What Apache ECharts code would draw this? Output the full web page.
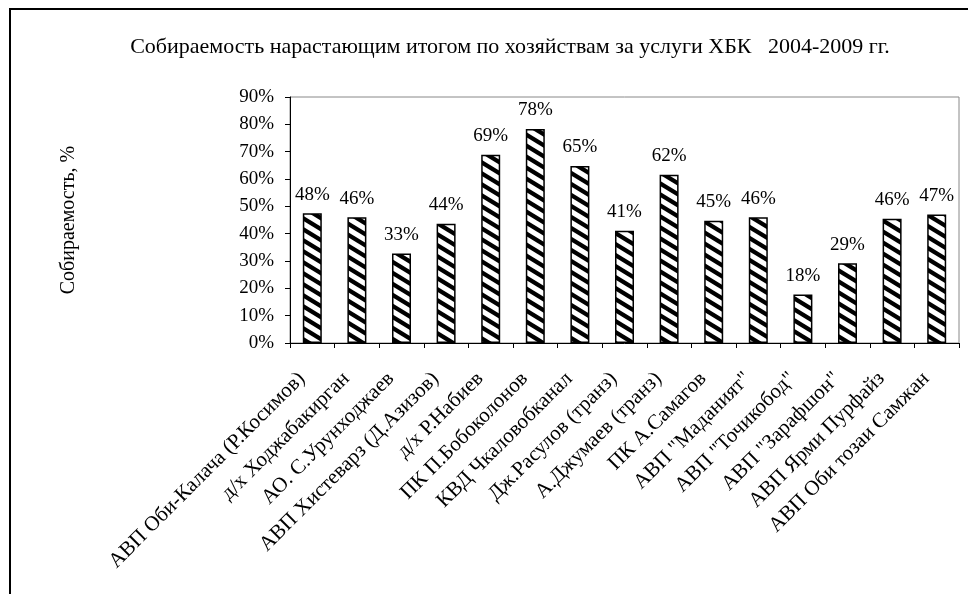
<!DOCTYPE html>
<html><head><meta charset="utf-8">
<script src="https://cdn.jsdelivr.net/npm/echarts@6/dist/echarts.min.js"></script>
<style>html,body{margin:0;padding:0;background:#fff}#c{width:968px;height:594px}</style>
</head><body><div id="c"></div>
<script>
const titleText = 'Собираемость нарастающим итогом по хозяйствам за услуги ХБК   2004-2009 гг.';
const yAxisName = 'Собираемость, %';
const categories = [
  'АВП Оби-Калача (Р.Косимов)',
  'д/х Ходжабакирган',
  'АО. С.Урунходжаев',
  'АВП Хистеварз (Д.Азизов)',
  'д/х Р.Набиев',
  'ПК П.Бобоколонов',
  'КВД Чкаловобканал',
  'Дж.Расулов (транз)',
  'А.Джумаев (транз)',
  'ПК А.Самагов',
  'АВП "Маданият"',
  'АВП "Точикобод"',
  'АВП "Зарафшон"',
  'АВП Ярми Пурфайз',
  'АВП Оби тозаи Самжан'
];
const collection = [47.5, 46.0, 32.7, 43.6, 68.9, 78.3, 64.8, 41.1, 61.6, 44.7, 46.0, 17.7, 29.2, 45.5, 47.0];
const yTicks = [0, 90, 10];

function makePattern() {
  const w = 18, h = 11;
  const cv = document.createElement('canvas');
  cv.width = w; cv.height = h;
  const ctx = cv.getContext('2d');
  ctx.fillStyle = '#fff';
  ctx.fillRect(0, 0, w, h);
  ctx.strokeStyle = '#000';
  ctx.lineWidth = 4.3;
  for (let k = -2; k <= 2; k++) {
    ctx.beginPath();
    ctx.moveTo(-w, -h + k * h);
    ctx.lineTo(2 * w, 2 * h + k * h);
    ctx.stroke();
  }
  return cv;
}

const FONT = 'Liberation Serif';
const chart = echarts.init(document.getElementById('c'), null, {renderer: 'canvas'});
chart.setOption({
  animation: false,
  backgroundColor: '#fff',
  title: {
    text: titleText, left: 505, top: 31, textAlign: 'center',
    textStyle: {fontFamily: FONT, fontSize: 22, fontWeight: 'normal', color: '#000'}
  },
  graphic: [{
    type: 'rect', shape: {x: 10, y: 9, width: 1200, height: 1200},
    style: {fill: 'none', stroke: '#000', lineWidth: 2}, silent: true
  }],
  grid: {left: 290, right: 9, top: 97, bottom: 251, show: true, borderColor: '#888', borderWidth: 1, backgroundColor: '#fff'},
  xAxis: {
    type: 'category', data: categories,
    axisLine: {lineStyle: {color: '#000', width: 1}},
    axisTick: {show: true, length: 5, lineStyle: {color: '#000'}},
    axisLabel: {rotate: 45, interval: 0, margin: 22, padding: [0, 15, 0, 0], fontFamily: FONT, fontSize: 21, color: '#000'}
  },
  yAxis: {
    type: 'value', min: yTicks[0], max: yTicks[1], interval: yTicks[2],
    name: yAxisName, nameLocation: 'middle', nameGap: 211, nameRotate: 90,
    nameTextStyle: {fontFamily: FONT, fontSize: 20, color: '#000'},
    axisLine: {show: true, lineStyle: {color: '#000', width: 1}},
    axisTick: {show: true, length: 5, inside: false, lineStyle: {color: '#000'}},
    splitLine: {show: false},
    axisLabel: {formatter: '{value}%', margin: 16, fontFamily: FONT, fontSize: 19, color: '#000'}
  },
  series: [{
    type: 'bar', data: collection, barWidth: 19,
    itemStyle: {color: {image: makePattern(), repeat: 'repeat'}, borderColor: '#000', borderWidth: 1.5},
    label: {
      show: true, position: 'top', distance: 9,
      formatter: p => Math.round(p.value) + '%',
      fontFamily: FONT, fontSize: 19, color: '#000'
    }
  }]
});
</script></body></html>
